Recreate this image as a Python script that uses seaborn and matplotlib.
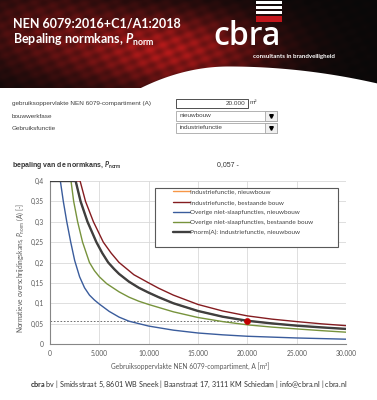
import numpy as np
import pandas as pd
import seaborn as sns
import matplotlib.pyplot as plt
from matplotlib.patches import Rectangle
from matplotlib.lines import Line2D

# invoer rekenblad
A_invoer = 20000
P_uitkomst = 0.057
invoer_opp = "20.000"
bouwwerkfase = "nieuwbouw"
gebruiksfunctie = "industriefunctie"

# curves (A in m2, P in -)
a_ind_nieuw = [0, 2600, 3100, 3800, 4700, 5300, 5900, 6500, 7000, 8000, 9000, 10000, 11000, 12500,
               15000, 17500, 20000, 22500, 25000, 27500, 30000]
p_ind_nieuw = [0.4, 0.4, 0.35, 0.30, 0.25, 0.223, 0.20, 0.184, 0.172, 0.153, 0.138, 0.126, 0.115, 0.10,
               0.081, 0.067, 0.057, 0.0505, 0.045, 0.0408, 0.037]

a_ind_best = [0, 3050, 3600, 4400, 5400, 6200, 7000, 8500, 10000, 11000, 12500, 15000, 17500, 20000,
              22500, 25000, 27500, 30000]
p_ind_best = [0.4, 0.4, 0.35, 0.30, 0.25, 0.223, 0.20, 0.17, 0.15, 0.137, 0.12, 0.097, 0.081, 0.069,
              0.061, 0.055, 0.0495, 0.045]

a_ov_nieuw = [0, 1050, 1350, 1700, 2100, 2500, 3000, 3500, 4000, 4500, 5000, 6000, 7000, 8000, 10000,
              12500, 15000, 17500, 20000, 25000, 30000]
p_ov_nieuw = [0.4, 0.4, 0.35, 0.30, 0.25, 0.205, 0.165, 0.138, 0.12, 0.108, 0.098, 0.08, 0.066, 0.056,
              0.044, 0.034, 0.027, 0.0225, 0.019, 0.0148, 0.0118]

a_ov_best = [0, 2130, 2400, 2800, 3300, 4000, 4500, 5000, 5750, 7000, 8000, 9000, 10000, 12500, 15000,
             17500, 20000, 22500, 25000, 27500, 30000]
p_ov_best = [0.4, 0.4, 0.35, 0.30, 0.25, 0.20, 0.18, 0.165, 0.148, 0.128, 0.115, 0.105, 0.097, 0.079,
             0.065, 0.055, 0.047, 0.0415, 0.037, 0.0328, 0.029]

# Pnorm(A) volgt de gekozen functie (industriefunctie, nieuwbouw)
a_pnorm = a_ind_nieuw
p_pnorm = p_ind_nieuw

reeksen = [
    ("Industriefunctie, nieuwbouw", a_ind_nieuw, p_ind_nieuw, "#F79646", 1.0),
    ("Industriefunctie, bestaande bouw", a_ind_best, p_ind_best, "#841C20", 1.0),
    ("Overige niet-slaapfuncties, nieuwbouw", a_ov_nieuw, p_ov_nieuw, "#3A5C9C", 1.0),
    ("Overige niet-slaapfuncties, bestaande bouw", a_ov_best, p_ov_best, "#77933C", 1.0),
    ("Pnorm(A): industriefunctie, nieuwbouw", a_pnorm, p_pnorm, "#3F3F3F", 1.7),
]

x_ticks = [0, 5000, 10000, 15000, 20000, 25000, 30000]
y_ticks = [0, 0.05, 0.1, 0.15, 0.2, 0.25, 0.3, 0.35, 0.4]

df = pd.concat([pd.DataFrame({"A": a, "P": p, "reeks": naam}) for naam, a, p, _, _ in reeksen],
               ignore_index=True)

sns.set_style("white")
plt.rcParams["font.family"] = ["Lato", "DejaVu Sans"]
plt.rcParams["mathtext.fontset"] = "custom"
plt.rcParams["mathtext.rm"] = "Lato"
plt.rcParams["mathtext.it"] = "Lato:italic"
plt.rcParams["mathtext.bf"] = "Lato:bold"
plt.rcParams["mathtext.bfit"] = "Lato:italic:bold"

W, H = 377, 400
fig = plt.figure(figsize=(W / 100, H / 100), dpi=100)

# achtergrond / opmaak in pixelcoordinaten
bg = fig.add_axes([0, 0, 1, 1])
bg.set_xlim(0, W)
bg.set_ylim(H, 0)
bg.axis("off")

# kopbalk (donkerrood verloop met wat structuur)
xx, yy = np.meshgrid(np.arange(W) + 0.5, np.arange(88) + 0.5)
r = (0.04 + 0.55 * np.exp(-((xx - 170) / 95) ** 2 - ((yy - 50) / 38) ** 2)
     + 0.25 * np.exp(-((xx - 40) / 80) ** 2 - ((yy - 30) / 45) ** 2))
r = r * (1 + 0.18 * np.sin(xx * 0.31 + yy * 0.17) * np.sin(yy * 0.43 - xx * 0.07))
r = np.clip(r, 0, 1)
img = np.dstack([r, r * 0.1 + 0.03, r * 0.1 + 0.03])
bg.imshow(img, extent=[0, W, 88, 0], aspect="auto", interpolation="bilinear")
bg.set_xlim(0, W)
bg.set_ylim(H, 0)

hx = np.linspace(130, W, 200)
hy = np.where(hx < 228, 66 + 28 * ((228 - hx) / 100) ** 2, 66 + 17 * ((hx - 228) / 149) ** 2)
hy = np.minimum(hy, 88)
bg.fill_between(hx, hy, 89, color="white", lw=0)

# logo
for y0 in [0.5, 5.5, 10.5]:
    bg.add_patch(Rectangle((256, y0), 26, 3, color="white", lw=0))
bg.add_patch(Rectangle((256, 15.5), 26, 6, color="#C3161C", lw=0))
bg.text(213, 45, "cbra", color="white", fontsize=23, fontweight="semibold",
        family=["Open Sans", "DejaVu Sans"], va="baseline", ha="left")
bg.text(253, 56.5, "consultants in brandveiligheid", color="white", fontsize=4.4,
        fontweight="bold", va="center", ha="left")

bg.text(13, 27, "NEN 6079:2016+C1/A1:2018", color="white", fontsize=9.0,
        fontweight="bold", va="baseline")
bg.text(13, 44, r"Bepaling normkans, $\mathbfit{P}_{\mathbf{norm}}$", color="white",
        fontsize=9.0, fontweight="bold", va="baseline")

# invoervelden
arial = ["Liberation Sans", "DejaVu Sans"]
lbl_kw = dict(fontsize=4.6, color="#404040", family=arial, va="center")
bg.text(12, 103.5, "gebruiksoppervlakte NEN 6079-compartiment (A)", **lbl_kw)
bg.text(12, 116, "bouwwerkfase", **lbl_kw)
bg.text(12, 128.5, "Gebruiksfunctie", **lbl_kw)

bg.add_patch(Rectangle((176, 99), 72, 9, facecolor="white", edgecolor="#333333", lw=0.6))
bg.text(245, 103.5, invoer_opp, ha="right", **lbl_kw)
bg.text(250, 103, "m²", ha="left", **lbl_kw)
for y0, txt in [(111, bouwwerkfase), (123, gebruiksfunctie)]:
    bg.add_patch(Rectangle((176, y0), 101, 9.5, facecolor="white", edgecolor="#A6A6A6", lw=0.6))
    bg.add_patch(Rectangle((265, y0), 12, 9.5, facecolor="#F0F0F0", edgecolor="#A6A6A6", lw=0.6))
    bg.plot([271], [y0 + 4.8], marker="v", ms=2.6, color="black")
    bg.text(180, y0 + 4.8, txt, ha="left", **lbl_kw)

bg.text(12, 165, r"bepaling van de normkans, $\mathbfit{P}_{\mathbf{norm}}$", fontsize=5,
        fontweight="bold", color="#333333", family=arial, va="center")
bg.text(217, 165, f"{P_uitkomst:.3f}".replace(".", ",") + " -", fontsize=5,
        color="#333333", family=arial, va="center")

bg.text(30, 384, r"$\mathbf{cbra}$ bv | Smidsstraat 5, 8601 WB Sneek | Baanstraat 17, 3111 KM Schiedam | info@cbra.nl | cbra.nl",
        fontsize=5.2, color="#333333", va="center", ha="left")

# grafiek
ax = fig.add_axes([50 / W, 1 - 344 / H, 296 / W, 163 / H])
for naam, a, p, kleur, lw in reeksen:
    sns.lineplot(data=df[df["reeks"] == naam], x="A", y="P", color=kleur, lw=lw,
                 label=naam, ax=ax, legend=False, zorder=3)

ax.hlines(P_uitkomst, 0, A_invoer, colors="#595959", linestyles=(0, (2, 2)), lw=0.6, zorder=2)
sns.scatterplot(x=[A_invoer], y=[P_uitkomst], color="#C00000", s=20, edgecolor="#C00000",
                ax=ax, zorder=6, legend=False)

ax.set_xlim(0, 30000)
ax.set_ylim(0, 0.4)
ax.set_xticks(x_ticks)
ax.set_xticklabels([f"{v:,}".replace(",", ".") for v in x_ticks])
ax.set_yticks(y_ticks)
ax.set_yticklabels([f"{v:g}".replace(".", ",") for v in y_ticks])
ax.grid(True, color="#D9D9D9", lw=0.6)
ax.set_axisbelow(True)
for s in ["top", "right"]:
    ax.spines[s].set_visible(False)
for s in ["left", "bottom"]:
    ax.spines[s].set_color("#868686")
    ax.spines[s].set_linewidth(0.8)
ax.tick_params(direction="out", length=2.5, width=0.6, color="#868686", labelsize=4.8,
               labelcolor="#595959", pad=2)

ax.set_xlabel("Gebruiksoppervlakte NEN 6079-compartiment, A [m²]", fontsize=4.8, color="#595959")
ax.xaxis.set_label_coords((190 - 50) / 296, -(362 - 344) / 163)
ax.set_ylabel(r"Normatieve overschrijdingskans, $P_{\mathrm{norm}}$ (A) [-]", fontsize=4.8,
              color="#595959")
ax.yaxis.set_label_coords(-(50 - 26) / 296, (344 - 268) / 163)

# legenda met eigen kader
ax.add_patch(Rectangle((105 / 296, 97 / 163), 183 / 296, 59 / 163, transform=ax.transAxes,
                       facecolor="white", edgecolor="#595959", lw=0.8, zorder=7))
handles = [Line2D([], [], color=k, lw=lw) for _, _, _, k, lw in reeksen]
leg = ax.legend(handles, [r[0] for r in reeksen], loc="upper left",
                bbox_to_anchor=((173 - 50) / 296, (344 - 189) / 163), frameon=False,
                fontsize=4.6, handlelength=2.6, handletextpad=0.1, borderpad=0,
                borderaxespad=0, labelspacing=0.75)
leg.set_zorder(8)
for t in leg.get_texts():
    t.set_color("#404040")

fig.savefig("out.png", dpi=100)
